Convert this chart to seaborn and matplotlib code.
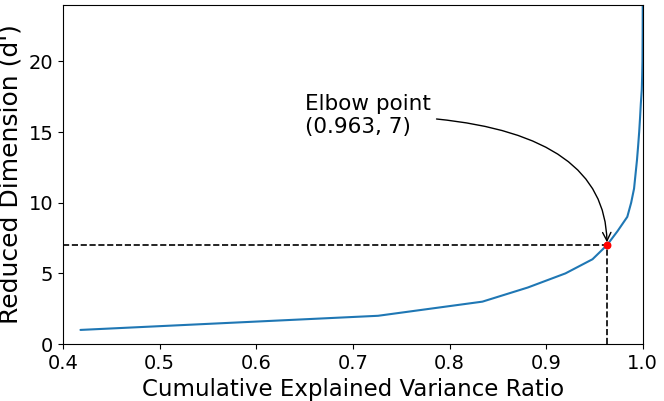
import numpy as np
import pandas as pd
import matplotlib
matplotlib.use("Agg")
import matplotlib.pyplot as plt
import seaborn as sns

# --- data ---
dims = list(range(1, 25))
cum_ratio = [0.418, 0.726, 0.834, 0.881, 0.920, 0.948, 0.963, 0.974,
             0.984, 0.988, 0.991, 0.9925, 0.994, 0.9952, 0.9963, 0.9972,
             0.998, 0.9990, 0.9994, 0.9997, 0.9998, 0.9999, 0.99995, 1.0]
elbow_x = 0.963
elbow_y = 7

df = pd.DataFrame({"ratio": cum_ratio, "dim": dims})

sns.set_style("ticks")
plt.rcParams['font.family'] = ['DejaVu Sans']
plt.rcParams['text.color'] = 'black'
plt.rcParams['axes.labelcolor'] = 'black'
plt.rcParams['xtick.color'] = 'black'
plt.rcParams['ytick.color'] = 'black'

fig, ax = plt.subplots(figsize=(6.64, 4.01), dpi=100)

sns.lineplot(data=df, x="ratio", y="dim", ax=ax, color="#1f77b4",
             linewidth=1.5, sort=False)

# dashed guides to the elbow
ax.plot([0.4, elbow_x], [elbow_y, elbow_y], 'k--', linewidth=1.2)
ax.plot([elbow_x, elbow_x], [0, elbow_y], 'k--', linewidth=1.2)
ax.scatter([elbow_x], [elbow_y], color='red', s=22, zorder=5)

ax.annotate(f"Elbow point\n({elbow_x}, {elbow_y})",
            xy=(elbow_x, elbow_y), xytext=(0.65, 14.9),
            fontsize=15.5, color='black',
            arrowprops=dict(arrowstyle="->", color="black", linewidth=1,
                            connectionstyle="angle3,angleA=0,angleB=90",
                            shrinkA=2, shrinkB=2, mutation_scale=15))

ax.set_xlim(0.4, 1.0)
ax.set_ylim(0, 24)
ax.set_xlabel("Cumulative Explained Variance Ratio", fontsize=16.5)
ax.set_ylabel("Reduced Dimension (d')", fontsize=18)
ax.tick_params(labelsize=14)
for s in ax.spines.values():
    s.set_color("black")

plt.subplots_adjust(left=0.095, right=0.968, top=0.988, bottom=0.142)
plt.savefig("out.png", dpi=100)
